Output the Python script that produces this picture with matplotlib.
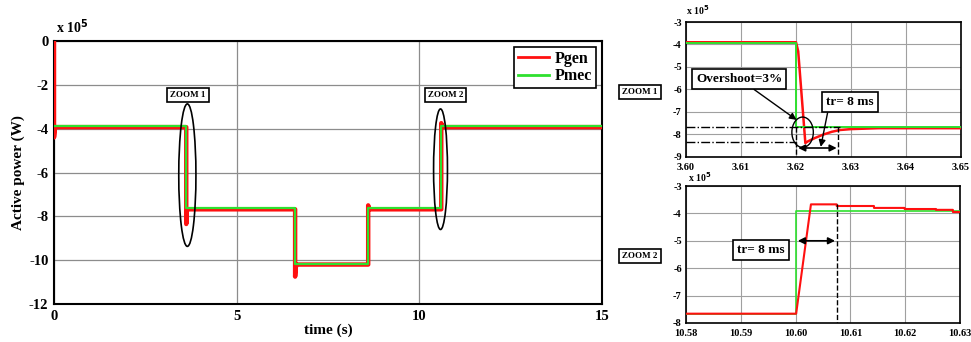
import matplotlib
matplotlib.use("Agg")
import matplotlib.pyplot as plt
from matplotlib.patches import Ellipse
from matplotlib.lines import Line2D

plt.rcParams['font.family'] = ['Liberation Serif', 'DejaVu Serif']
plt.rcParams['font.weight'] = 'bold'
plt.rcParams['axes.labelweight'] = 'bold'
plt.rcParams['axes.unicode_minus'] = False
plt.rcParams['mathtext.default'] = 'bf'

RED = '#ff1010'
GREEN = '#2ee02e'

# main plot (values in x 10^5 W)
t_mec = [0, 3.62, 3.62, 6.6, 6.6, 8.6, 8.6, 10.6, 10.6, 15]
p_mec = [-3.9, -3.9, -7.63, -7.63, -10.19, -10.19, -7.63, -7.63, -3.9, -3.9]
t_gen = [0, 0, 0.03, 3.62, 3.62, 3.63, 3.66, 6.6, 6.6, 6.62, 6.66,
         8.6, 8.6, 8.62, 8.66, 10.6, 10.6, 10.62, 10.66, 15]
p_gen = [0, -4.4, -3.93, -3.93, -8.35, -7.8, -7.68, -7.68, -10.75, -10.3, -10.2,
         -10.2, -7.5, -7.62, -7.68, -7.68, -3.75, -3.88, -3.93, -3.93]

# zoom 1 (3.60 - 3.65 s)
z1_t_mec = [3.60, 3.62, 3.62, 3.65]
z1_p_mec = [-3.92, -3.92, -7.66, -7.66]
z1_t_gen = [3.60, 3.6200, 3.6204, 3.6217, 3.6222, 3.6235, 3.625, 3.6265,
            3.628, 3.630, 3.635, 3.65]
z1_p_gen = [-3.9, -3.9, -4.3, -8.38, -8.3, -8.15, -8.0, -7.88, -7.8, -7.76,
            -7.72, -7.72]

# zoom 2 (10.58 - 10.63 s)
z2_t_mec = [10.58, 10.60, 10.60, 10.63]
z2_p_mec = [-7.66, -7.66, -3.93, -3.93]
z2_t_gen = [10.58, 10.6001, 10.6028, 10.6075, 10.6075, 10.6143, 10.6143,
            10.6199, 10.6199, 10.6256, 10.6256, 10.6287, 10.6287, 10.63]
z2_p_gen = [-7.66, -7.66, -3.67, -3.67, -3.73, -3.73, -3.8, -3.8, -3.84,
            -3.84, -3.87, -3.87, -3.95, -3.95]

fig = plt.figure(figsize=(9.71, 3.42), dpi=100)

# ---- main axes
ax = fig.add_axes([54/971, 1-304/342, 548/971, 263/342])
ax.plot(t_gen, p_gen, color=RED, lw=3.2, zorder=3)
ax.plot(t_mec, p_mec, color=GREEN, lw=1.6, zorder=4)
ax.set_xlim(0, 15)
ax.set_ylim(-12, 0)
ax.set_xticks([0, 5, 10, 15])
ax.set_yticks(range(-12, 1, 2))
ax.grid(True, color='#8c8c8c', lw=0.9)
ax.tick_params(direction='in', labelsize=10.5, length=0, pad=4)
for s in ax.spines.values():
    s.set_linewidth(1.5)
ax.set_xlabel('time (s)', fontsize=11, labelpad=1)
ax.set_ylabel('Active power (W)', fontsize=11, labelpad=3)
handles = [Line2D([], [], color=RED, lw=2), Line2D([], [], color=GREEN, lw=2)]
leg = ax.legend(handles, ['Pgen', 'Pmec'], loc='upper right', fontsize=11.5,
                fancybox=False, edgecolor='black', framealpha=1,
                borderpad=0.25, handlelength=1.9, handletextpad=0.4,
                borderaxespad=0.35, labelspacing=0.1)
leg.get_frame().set_linewidth(1.2)
fig.text(56/971, 1-33/342, r'x 10$^5$', fontsize=10)

ax.add_patch(Ellipse((3.65, -6.12), 0.47, 6.5, fill=False, ec='black',
                     lw=1.2, zorder=5))
ax.add_patch(Ellipse((10.58, -5.85), 0.38, 5.5, fill=False, ec='black',
                     lw=1.2, zorder=5))
box = dict(boxstyle='square,pad=0.35', fc='white', ec='black', lw=1.2)
ax.text(3.67, -2.45, 'ZOOM 1', fontsize=6.5, ha='center', va='center',
        bbox=box, zorder=6)
ax.text(10.72, -2.45, 'ZOOM 2', fontsize=6.5, ha='center', va='center',
        bbox=box, zorder=6)

# ---- zoom 1
a1 = fig.add_axes([686/971, 1-157/342, 275/971, 135/342])
a1.plot(z1_t_gen, z1_p_gen, color=RED, lw=1.8, zorder=3)
a1.plot(z1_t_mec, z1_p_mec, color=GREEN, lw=1.4, zorder=4)
a1.set_xlim(3.60, 3.65)
a1.set_ylim(-9, -3)
a1.set_xticks([3.60, 3.61, 3.62, 3.63, 3.64, 3.65])
a1.set_xticklabels(['3.60', '3.61', '3.62', '3.63', '3.64', '3.65'])
a1.set_yticks(range(-9, -2))
a1.grid(True, color='#a0a0a0', lw=0.8)
a1.tick_params(direction='in', labelsize=7.5, length=0)
a1.tick_params(axis='x', pad=4)
a1.tick_params(axis='y', pad=3)
for s in a1.spines.values():
    s.set_linewidth(1.2)
fig.text(686/971, 1-15/342, r'x 10$^5$', fontsize=7)

a1.plot([3.60, 3.628], [-7.65, -7.65], color='black', lw=1, ls='-.', zorder=5)
a1.plot([3.60, 3.620], [-8.32, -8.32], color='black', lw=1, ls='-.', zorder=5)
a1.plot([3.62, 3.62], [-7.65, -9], color='black', lw=1, ls='--', zorder=5)
a1.plot([3.6277, 3.6277], [-7.65, -9], color='black', lw=1, ls='--', zorder=5)
a1.annotate('', xy=(3.6279, -8.6), xytext=(3.6199, -8.6),
            arrowprops=dict(arrowstyle='<|-|>', color='black', lw=1.2,
                            mutation_scale=10), zorder=6)
a1.add_patch(Ellipse((3.6212, -7.9), 0.0039, 1.35, fill=False, ec='black',
                     lw=1, zorder=6))
box2 = dict(boxstyle='square,pad=0.3', fc='white', ec='black', lw=1.2)
a1.annotate('Overshoot=3%', xy=(3.6201, -7.35), xytext=(3.6097, -5.53),
            fontsize=9.5, ha='center', va='center', bbox=box2,
            arrowprops=dict(arrowstyle='-|>', color='black', lw=1,
                            mutation_scale=10, shrinkA=0, shrinkB=0),
            zorder=7)
a1.annotate('tr= 8 ms', xy=(3.6245, -8.55), xytext=(3.6298, -6.57),
            fontsize=9.5, ha='center', va='center', bbox=box2,
            arrowprops=dict(arrowstyle='-|>', color='black', lw=1,
                            mutation_scale=10, shrinkA=0, shrinkB=0,
                            relpos=(0.05, 0)),
            zorder=7)
fig.text(640/971, 1-92/342, 'ZOOM 1', fontsize=6.5, ha='center', va='center',
         bbox=box)

# ---- zoom 2
a2 = fig.add_axes([686/971, 1-323/342, 274/971, 137/342])
a2.plot(z2_t_gen, z2_p_gen, color=RED, lw=1.5, zorder=4)
a2.plot(z2_t_mec, z2_p_mec, color=GREEN, lw=1.2, zorder=3)
a2.set_xlim(10.58, 10.63)
a2.set_ylim(-8, -3)
a2.set_xticks([10.58, 10.59, 10.60, 10.61, 10.62, 10.63])
a2.set_xticklabels(['10.58', '10.59', '10.60', '10.61', '10.62', '10.63'])
a2.set_yticks(range(-8, -2))
a2.grid(True, color='#a0a0a0', lw=0.8)
a2.tick_params(direction='in', labelsize=7.5, length=0)
a2.tick_params(axis='x', pad=4)
a2.tick_params(axis='y', pad=3)
for s in a2.spines.values():
    s.set_linewidth(1.2)
fig.text(688/971, 1-182/342, r'x 10$^5$', fontsize=7)

a2.plot([10.6075, 10.6075], [-3.67, -8], color='black', lw=1, ls='--', zorder=5)
a2.annotate('', xy=(10.6077, -5.0), xytext=(10.5999, -5.0),
            arrowprops=dict(arrowstyle='<|-|>', color='black', lw=1.2,
                            mutation_scale=10), zorder=6)
a2.text(10.5937, -5.33, 'tr= 8 ms', fontsize=9.5, ha='center', va='center',
        bbox=box2, zorder=7)
fig.text(640/971, 1-256/342, 'ZOOM 2', fontsize=6.5, ha='center', va='center',
         bbox=box)

fig.savefig('out.png', dpi=100)
